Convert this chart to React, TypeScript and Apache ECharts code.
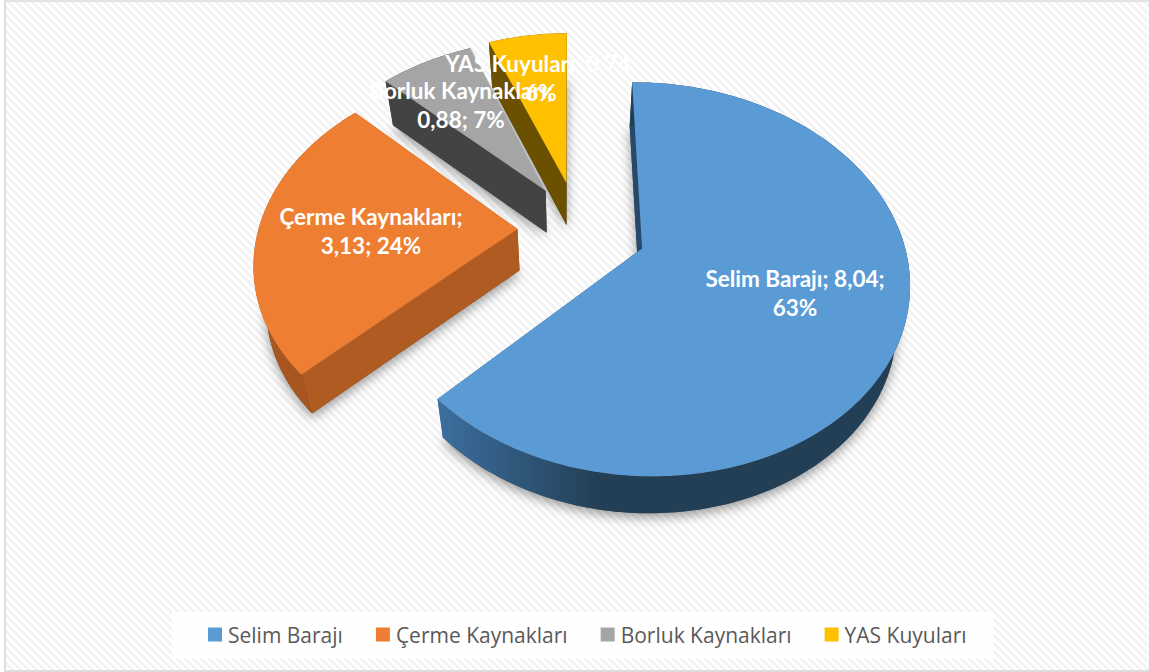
import React, { useEffect, useRef } from "react";
import * as echarts from "echarts";

const categories = ["Selim Barajı", "Çerme Kaynakları", "Borluk Kaynakları", "YAS Kuyuları"];
const values = [8.04, 3.13, 0.88, 0.74];
const percents = [63, 24, 7, 6];
const labelBreakAfter = [2, 1, 1, 2];

const colors = ["#5B9BD5", "#EE7E31", "#A5A5A5", "#FFC000"];
const legendColors = ["#5B9BD5", "#ED7D31", "#A5A5A5", "#FFC000"];
const drawOrder = [3, 2, 1, 0];

const CX = 640, CY = 248, A = 192, B = 263, P = 0.157, K = 0.044, START = -0.6;
const explode: number[][] = [[0.008, 0.002], [-0.47, -0.1], [-0.366, -0.313], [-0.284, -0.357]];
const labelPos: number[][] = [[795, 293], [371, 231], [461, 105], [541, 78]];

const total = values.reduce((a, b) => a + b, 0);

function project(u: number, v: number): number[] {
  const s = 1 / (1 - P * v);
  const y = A * v * s;
  return [CX + B * u * s + K * y, CY + y];
}
function drop(p: number[]): number[] {
  return [p[0] + (570 - p[0]) * 0.04, p[1] + 45.3 - 0.0175 * p[1]];
}
function sliceAngles(i: number): number[] {
  let before = 0;
  for (let k = 0; k < i; k++) before += values[k];
  return [START + (before / total) * 360, START + ((before + values[i]) / total) * 360];
}
function pointAt(i: number, deg: number): number[] {
  const r = (deg * Math.PI) / 180;
  return project(explode[i][0] + Math.sin(r), explode[i][1] - Math.cos(r));
}

function wallStyle(i: number, part: "arc" | "radial"): any {
  if (i === 0) {
    if (part === "radial") return { fill: "#254A6B" };
    return {
      fill: {
        type: "linear", x: 440, y: 0, x2: 600, y2: 0, global: true,
        colorStops: [
          { offset: 0, color: "#3C6E9E" },
          { offset: 1, color: "#233F56" },
        ],
      },
    };
  }
  if (i === 1) return { fill: part === "arc" ? "#A85520" : "#AF5B22" };
  if (i === 2) return { fill: "#434343" };
  return { fill: "#6B5000" };
}

function renderSlice(i: number) {
  return () => {
    const [a0, a1] = sliceAngles(i);
    const arc: number[][] = [];
    const steps = Math.max(8, Math.ceil(a1 - a0));
    for (let k = 0; k <= steps; k++) arc.push(pointAt(i, a0 + ((a1 - a0) * k) / steps));
    const apex = project(explode[i][0], explode[i][1]);
    const top = [apex, ...arc];
    const bottom = top.map(drop);
    const arcBottom = arc.map(drop);
    const first = arc[0], last = arc[arc.length - 1];
    const children: any[] = [
      {
        type: "polygon",
        shape: { points: bottom },
        style: { fill: "#555", shadowBlur: 12, shadowOffsetY: 4, shadowColor: "rgba(0,0,0,0.4)" },
      },
      { type: "polygon", shape: { points: [apex, first, drop(first), drop(apex)] }, style: wallStyle(i, "radial") },
      { type: "polygon", shape: { points: [...arc, ...arcBottom.slice().reverse()] }, style: wallStyle(i, "arc") },
      { type: "polygon", shape: { points: [apex, last, drop(last), drop(apex)] }, style: i === 0 ? wallStyle(0, "arc") : wallStyle(i, "radial") },
      { type: "polygon", shape: { points: top }, style: { fill: colors[i] } },
    ];
    if (i === 2) {
      children.push({ type: "line", shape: { x1: apex[0], y1: apex[1], x2: last[0], y2: last[1] }, style: { stroke: "#BFC4C8", lineWidth: 1 } });
    }
    return { type: "group", children };
  };
}

function labelText(i: number): string {
  const parts = [categories[i], values[i].toFixed(2).replace(".", ","), `${percents[i]}%`];
  const n = labelBreakAfter[i];
  return parts.slice(0, n).join("; ") + (n < 3 ? ";\n" : "") + parts.slice(n).join("; ");
}

export default function App() {
  const ref = useRef<HTMLDivElement>(null);
  useEffect(() => {
    const chart = echarts.init(ref.current!, undefined, { renderer: "svg" });
    const sliceSeries = drawOrder.map((i, order) => ({
      type: "custom",
      name: categories[i],
      coordinateSystem: "none",
      z: 2 + order,
      silent: true,
      itemStyle: { color: legendColors[i] },
      data: [[values[i]]],
      renderItem: renderSlice(i),
    }));
    chart.setOption({
      animation: false,
      legend: {
        data: categories,
        left: 172,
        top: 612,
        padding: [12, 27, 14, 36],
        backgroundColor: "rgba(255,255,255,0.85)",
        itemWidth: 14,
        itemHeight: 14,
        itemGap: 33,
        icon: "rect",
        textStyle: { color: "#595959", fontFamily: "Open Sans", fontSize: 21, padding: [0, 0, 0, 1] },
      },
      series: [
        ...sliceSeries,
        {
          type: "custom",
          name: "labels",
          coordinateSystem: "none",
          z: 10,
          silent: true,
          data: values.map((v) => [v]),
          renderItem: (params: any) => ({
            type: "text",
            x: labelPos[params.dataIndex][0],
            y: labelPos[params.dataIndex][1],
            style: {
              text: labelText(params.dataIndex),
              fill: "#FFFFFF",
              font: "bold 22.5px Lato",
              align: "center",
              verticalAlign: "middle",
              lineHeight: 29,
            },
          }),
        },
      ],
    });
    return () => chart.dispose();
  }, []);
  return (
    <div style={{ position: "absolute", left: 0, top: 0, width: 1149, height: 672, background: "#fff", overflow: "hidden" }}>
      <div
        style={{
          position: "absolute", left: 4, top: 0, width: 1145, height: 672, boxSizing: "border-box",
          borderLeft: "2px solid #DDDDDD", borderTop: "2px solid #E2E2E2", borderBottom: "2px solid #DDDDDD",
          background: "repeating-linear-gradient(45deg, #FFFFFF 0px, #FFFFFF 2.83px, #F3F3F3 2.83px, #F3F3F3 5.66px)",
        }}
      />
      <div ref={ref} style={{ position: "absolute", left: 0, top: 0, width: 1149, height: 672 }} />
    </div>
  );
}
